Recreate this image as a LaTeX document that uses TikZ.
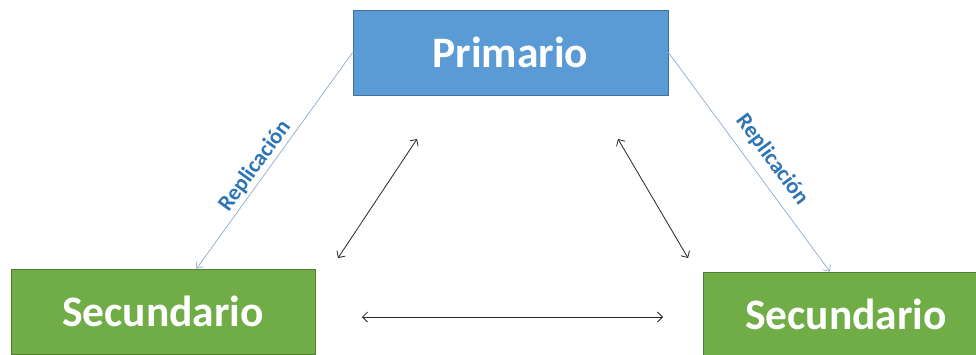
\documentclass[tikz,border=0pt]{standalone}
\usepackage{fontspec}
\setmainfont{Carlito}
\usetikzlibrary{arrows.meta,calc}
\definecolor{primfill}{HTML}{5B9BD5}
\definecolor{primline}{HTML}{41719C}
\definecolor{secfill}{HTML}{70AD47}
\definecolor{secline}{HTML}{507E32}
\definecolor{replline}{HTML}{8FAAD0}
\definecolor{repltext}{HTML}{2E75B6}
\tikzset{
  server/.style={draw, line width=0.8pt, minimum width=#1, inner sep=0pt,
    text=white, font=\bfseries\fontsize{43.5}{43.5}\selectfont},
  primbox/.style={server=315pt, fill=primfill, draw=primline, minimum height=85pt},
  secbox/.style={server=#1, fill=secfill, draw=secline, minimum height=85pt},
  repl/.style={draw=replline, line width=0.7pt, -{Straight Barb[length=5pt,width=9pt]}},
  repllabel/.style={text=repltext, font=\bfseries\fontsize{22.5}{22.5}\selectfont, inner sep=0pt},
  link/.style={draw=black!85, line width=0.8pt, {Straight Barb[length=5pt,width=10pt]}-{Straight Barb[length=5pt,width=10pt]}}
}
\begin{document}
\begin{tikzpicture}[x=1pt,y=-1pt]
  \useasboundingbox (0,0) rectangle (976,354);
  \clip (0,0) rectangle (976,354);
  \fill[white] (0,0) rectangle (976,354);

  % servers
  \node[primbox] (prim) at (510.5,52.5) {Primario};
  \node[secbox=304pt] (sec1) at (163,311.5) {Secundario};
  \node[secbox=286pt] (sec2) at (846,314.5) {Secundario};

  % replication links
  \draw[repl] (prim.west) -- ($(sec1.north west)!0.61!(sec1.north east)$);
  \draw[repl] (prim.east) -- ($(sec2.north west)!0.444!(sec2.north east)$);
  \node[repllabel, rotate=53.8] (lblL) at (255,166) {Replicación};
  \node[repllabel, rotate=-53.4] (lblR) at (772,160) {Replicación};

  % two-way links between servers
  \coordinate (aL1) at (338,258);
  \coordinate (aL2) at (417,139);
  \coordinate (aR1) at (618,139);
  \coordinate (aR2) at (688,258);
  \coordinate (aH1) at (362,317);
  \coordinate (aH2) at (663,317);
  \draw[link] (aL1) -- (aL2);
  \draw[link] (aR1) -- (aR2);
  \draw[link] (aH1) -- (aH2);
\end{tikzpicture}
\end{document}
